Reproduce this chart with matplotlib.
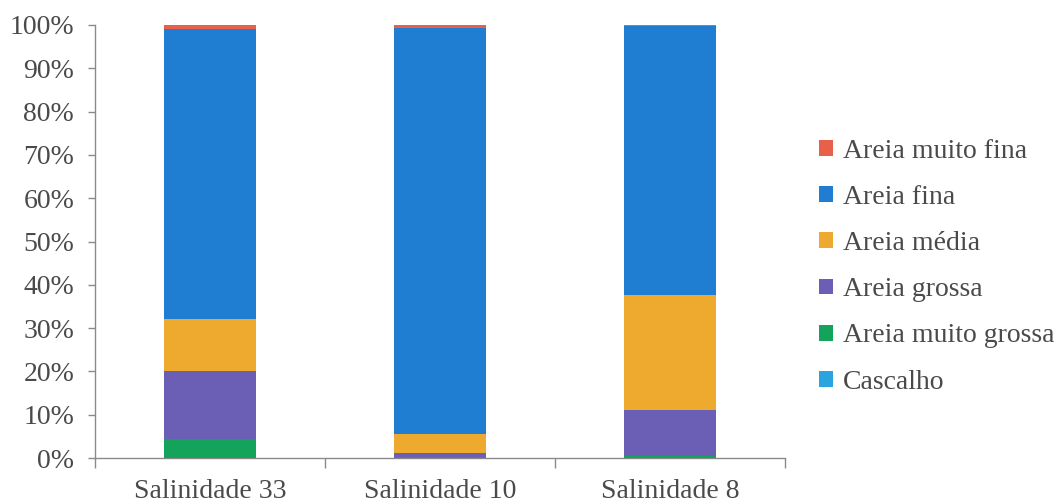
import matplotlib
matplotlib.use("Agg")
import matplotlib.pyplot as plt
from matplotlib.patches import Patch
from matplotlib.ticker import PercentFormatter

plt.rcParams.update({
    "font.family": ["Liberation Serif", "DejaVu Serif"],
    "font.size": 20,
})

# granulometria por estação (%), da base para o topo
stations = ["Salinidade 33", "Salinidade 10", "Salinidade 8"]
classes = ["Cascalho", "Areia muito grossa", "Areia grossa",
           "Areia média", "Areia fina", "Areia muito fina"]
cascalho      = [0.0, 0.0, 0.0]
muito_grossa  = [4.3, 0.2, 0.5]
grossa        = [15.9, 1.0, 10.5]
media         = [12.0, 4.3, 26.7]
fina          = [66.8, 93.9, 62.0]
muito_fina    = [1.0, 0.6, 0.3]

colors = ["#2aa3df", "#13a35b", "#6a5fb4", "#eeaa2f", "#1f7ed2", "#e8604a"]
GREY = "#8a8a8a"
TXT = "#4a4a4a"

series = [cascalho, muito_grossa, grossa, media, fina, muito_fina]

fig = plt.figure(figsize=(10.59, 5.04), dpi=100)
ax = fig.add_axes([95 / 1059, 46 / 504, 690 / 1059, 433 / 504])

x = range(len(stations))
bottom = [0.0] * len(stations)
for vals, col in zip(series, colors):
    ax.bar(x, vals, 0.4, bottom=bottom, color=col, linewidth=0, zorder=3)
    bottom = [b + v for b, v in zip(bottom, vals)]

ax.set_xlim(-0.5, 2.5)
ax.set_ylim(0, 100)
ax.set_yticks(range(0, 101, 10))
ax.yaxis.set_major_formatter(PercentFormatter(decimals=0))

# divisões entre categorias como ticks maiores, rótulos nos menores
ax.set_xticks([-0.5, 0.5, 1.5, 2.5])
ax.set_xticklabels([])
ax.set_xticks(list(x), minor=True)
ax.set_xticklabels(stations, minor=True)
ax.tick_params(axis="x", which="major", length=7, color=GREY, width=1)
ax.tick_params(axis="x", which="minor", length=0, pad=15, labelcolor=TXT)
ax.tick_params(axis="y", length=5, color=GREY, width=1, pad=10, labelcolor=TXT)

for s in ["top", "right"]:
    ax.spines[s].set_visible(False)
for s in ["left", "bottom"]:
    ax.spines[s].set_color(GREY)
    ax.spines[s].set_linewidth(1)

handles = [Patch(facecolor=c, label=l) for c, l in zip(colors, classes)][::-1]
leg = fig.legend(handles=handles, loc="upper left",
                 bbox_to_anchor=(819 / 1059, 1 - 139 / 504), frameon=False,
                 handlelength=0.5, handleheight=0.5, handletextpad=0.35,
                 labelspacing=0.76, borderpad=0, borderaxespad=0)
for t in leg.get_texts():
    t.set_color(TXT)

fig.savefig("out.png", dpi=100, facecolor="white")
